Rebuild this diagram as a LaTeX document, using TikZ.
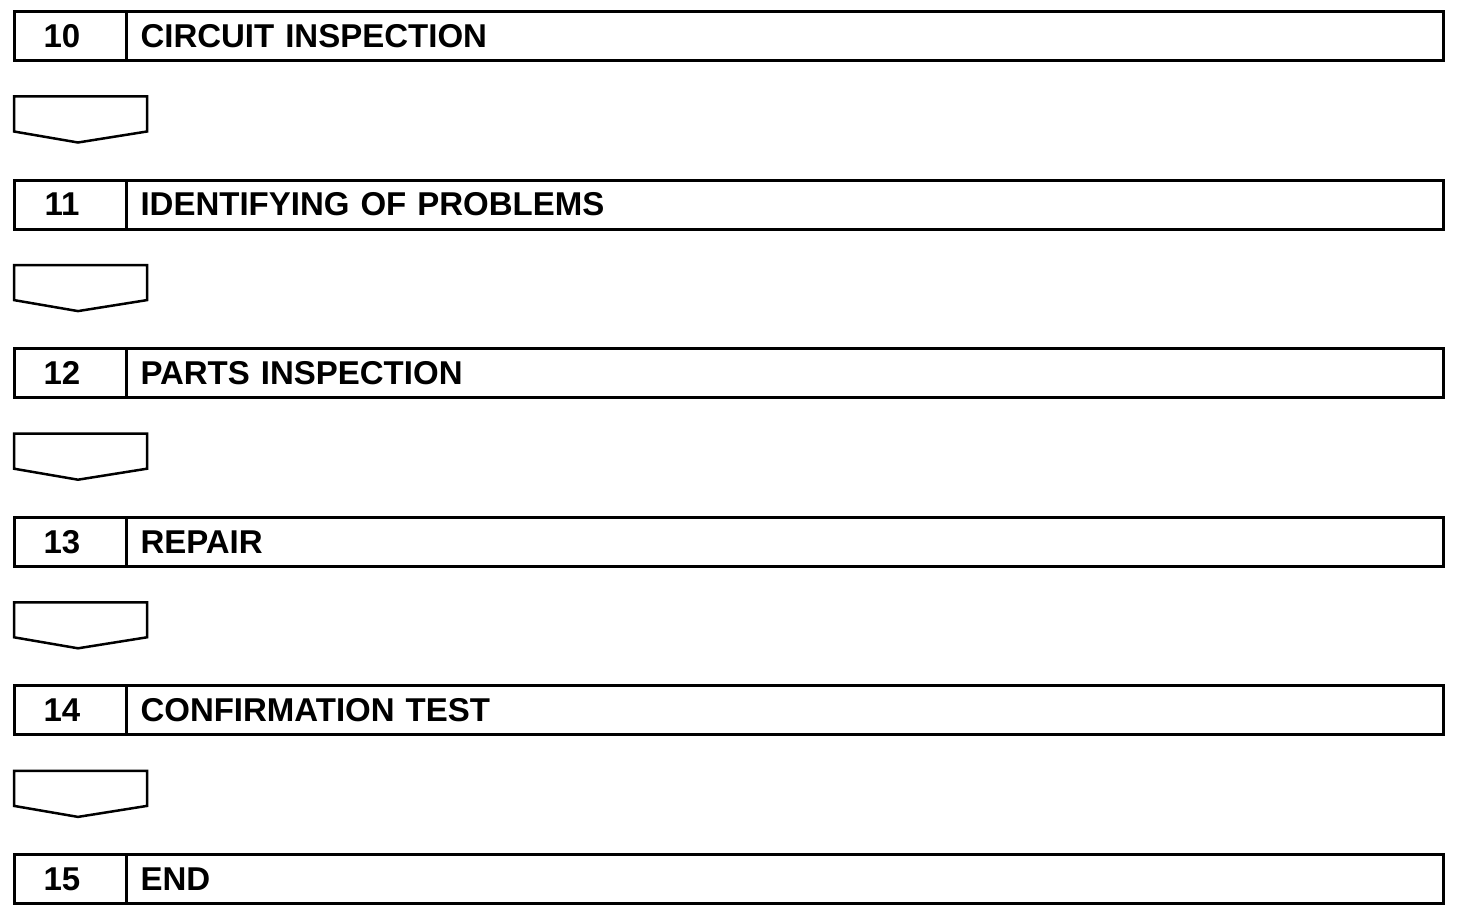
\documentclass[tikz,border=0pt]{standalone}
\usepackage{fontspec}
\setmainfont{Liberation Sans}
\usetikzlibrary{positioning}

\tikzset{
  stepbox/.style={draw, line width=3pt, outer sep=0pt, minimum width=1429pt,
    minimum height=49pt, text width=1177pt, inner xsep=126pt, inner ysep=0pt,
    align=left, anchor=north west},
  numlabel/.style={inner sep=0pt},
  divider/.style={line width=2.2pt},
  downarrow/.style={draw, line width=2.5pt, line join=miter}
}

\begin{document}
\begin{tikzpicture}[x=1pt, y=-1pt,
        every node/.style={font=\fontsize{33}{33}\selectfont\bfseries}]
  \useasboundingbox (0,0) rectangle (1472,920);

  % Steps with the arrows between them
  \foreach \n/\txt [count=\i from 0] in {10/CIRCUIT INSPECTION,
      11/IDENTIFYING OF PROBLEMS, 12/PARTS INSPECTION, 13/REPAIR,
      14/CONFIRMATION TEST, 15/END} {
    \pgfmathsetmacro\top{11.5+168.6*\i}
    \node[stepbox] (step\n) at (14.5,\top) {\txt};
    \node[numlabel] (num\n) at (62,\top+24.5) {\n};
    \draw[divider] ([xshift=112pt]step\n.north west)
      -- ([xshift=112pt]step\n.south west);
    \ifnum\n<15
      \draw[downarrow] (14,\top+85) -- (147,\top+85) -- (147,\top+120)
        -- (78,\top+131) -- (14,\top+120) -- cycle;
    \fi
  }

\end{tikzpicture}
\end{document}
